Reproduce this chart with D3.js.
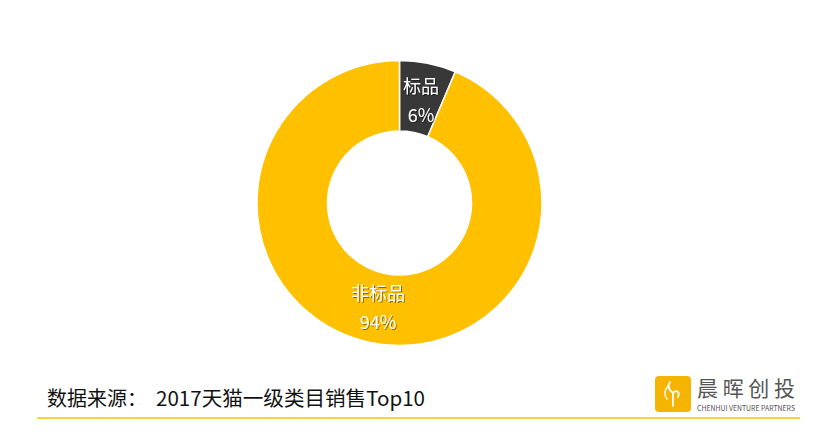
<!DOCTYPE html>
<html><head><meta charset="utf-8">
<script src="https://cdn.jsdelivr.net/npm/d3@7"></script>
<style>
body{margin:0;background:#fff;}
svg{display:block;font-family:"Microsoft YaHei","Noto Sans CJK SC",sans-serif;}
</style></head>
<body><svg id="c" width="827" height="439"></svg>
<script>
const categories = ["标品", "非标品"];
const values = [6.4, 93.6];
const colors = ["#383838", "#FFC000"];
const sourceLabel = "数据来源：";
const sourceText = "2017天猫一级类目销售Top10";

const svg = d3.select("#c");
const defs = svg.append("defs");
const f = defs.append("filter").attr("id","sh").attr("x","-20%").attr("y","-20%").attr("width","140%").attr("height","140%");
f.append("feDropShadow").attr("dx",1).attr("dy",1).attr("stdDeviation",0.6).attr("flood-color","#000").attr("flood-opacity",0.45);

const cx = 399.5, cy = 203, rOuter = 142.5, rInner = 72;
const total = d3.sum(values);
const pie = d3.pie().sort(null).value(d => d.v);
const arcs = pie(categories.map((c,i)=>({c, v: values[i], col: colors[i]})));
const arc = d3.arc().innerRadius(rInner).outerRadius(rOuter);
const g = svg.append("g").attr("transform",`translate(${cx},${cy})`);
g.selectAll("path").data(arcs).join("path")
  .attr("d", arc).attr("fill", d=>d.data.col)
  .attr("stroke","#fff").attr("stroke-width",1.5);

const fmt = d3.format(".0%");
const lab = g.selectAll("g.lab").data(arcs).join("g").attr("class","lab")
  .attr("transform", (d,i) => { const [x,y] = arc.centroid(d); return `translate(${x},${y + (i===0?3:0)})`; })
  .attr("filter","url(#sh)");
lab.append("text").attr("text-anchor","middle").attr("y",-8)
  .attr("fill","#fff").attr("font-size",18).text(d=>d.data.c);
lab.append("text").attr("text-anchor","middle").attr("y",21)
  .attr("fill","#fff").attr("font-size",18).text(d=>fmt(d.data.v/total));

// source text
svg.append("text").attr("x",47).attr("y",406).attr("font-size",20).attr("fill","#111").text(sourceLabel);
svg.append("text").attr("x",156).attr("y",406).attr("font-size",20).attr("fill","#111")
  .attr("textLength",269).attr("lengthAdjust","spacingAndGlyphs").text(sourceText);

// bottom line
svg.append("line").attr("x1",37).attr("x2",800).attr("y1",418).attr("y2",418)
  .attr("stroke","#FFC000").attr("stroke-width",1.5);

// logo
const lg = svg.append("g").attr("transform","translate(655,376)");
lg.append("rect").attr("width",36).attr("height",36).attr("rx",4).attr("fill","#F5B400");
lg.append("path").attr("d","M18 30 L18 17 M18 17 C14 14 12 10 15 6 M18 17 C22 13 25 16 23 21")
  .attr("fill","none").attr("stroke","#fff").attr("stroke-width",1.8).attr("stroke-linecap","round");
lg.append("path").attr("d","M13 10 C9 14 9 20 12 23")
  .attr("fill","none").attr("stroke","#fff").attr("stroke-width",1.4).attr("stroke-linecap","round");
svg.append("text").attr("x",697).attr("y",396).attr("font-size",21).attr("fill","#555")
  .attr("textLength",98).attr("lengthAdjust","spacing").text("晨晖创投");
svg.append("text").attr("x",697).attr("y",411).attr("font-size",8).attr("fill","#555")
  .attr("textLength",98).attr("lengthAdjust","spacingAndGlyphs").text("CHENHUI VENTURE PARTNERS");
</script></body></html>
